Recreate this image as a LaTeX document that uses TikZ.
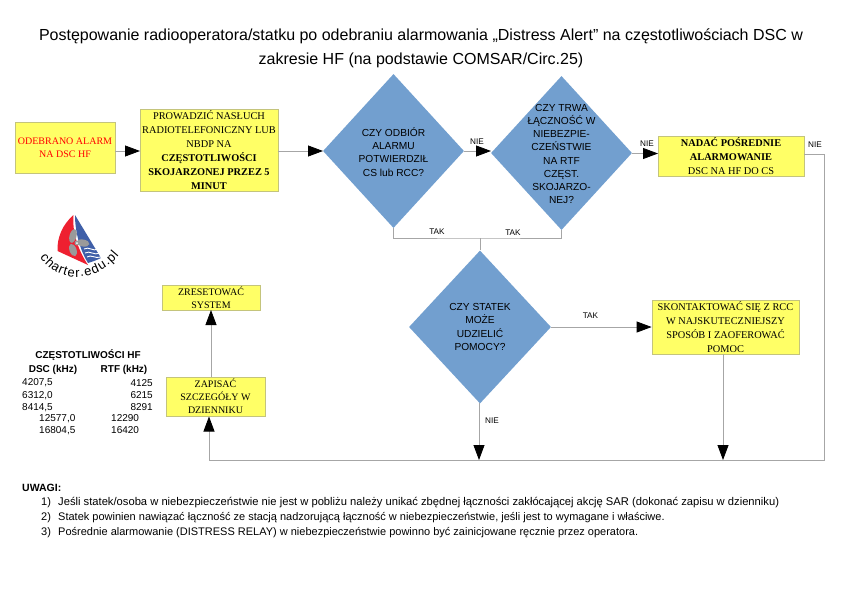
\documentclass[tikz,border=0pt]{standalone}
\usepackage{fontspec}
\setmainfont{Liberation Serif}
\setsansfont{Liberation Sans}
\usetikzlibrary{arrows.meta,shapes.geometric,decorations.text}
\definecolor{linegray}{HTML}{A6A6A6}
\definecolor{boxedge}{HTML}{C4C47C}
\definecolor{boxfill}{HTML}{FFFF66}
\definecolor{diamondfill}{HTML}{729FCF}
\definecolor{logored}{HTML}{EE2030}
\definecolor{logoblue}{HTML}{3F5FA8}
\definecolor{logogray}{HTML}{9A9A9A}
\tikzset{
  yellowbox/.style={draw=boxedge,fill=boxfill,line width=0.8pt,inner sep=0pt,align=center,
    font=\rmfamily\fontsize{10.35}{13.9}\selectfont},
  smallbox/.style={yellowbox,font=\rmfamily\fontsize{10}{13}\selectfont},
  decision/.style={shape=diamond,fill=diamondfill,draw=none,inner sep=0pt},
  dtext/.style={align=center,inner sep=0pt,font=\sffamily\fontsize{10.2}{13.2}\selectfont},
  conn/.style={draw=linegray,line width=0.8pt},
  arrowconn/.style={conn,-{Triangle[length=15pt,width=11pt,black]}},
  edgelabel/.style={inner sep=0pt,font=\sffamily\fontsize{8.2}{9}\selectfont},
  tabletext/.style={inner sep=0pt,font=\sffamily\fontsize{10}{11}\selectfont},
  tablehead/.style={inner sep=0pt,font=\sffamily\bfseries\fontsize{10}{11}\selectfont},
  notetext/.style={inner sep=0pt,anchor=west,font=\sffamily\fontsize{11}{12}\selectfont},
}
\begin{document}
\begin{tikzpicture}[x=1pt,y=-1pt]
\useasboundingbox (0,0) rectangle (842,595);
\node[align=center,inner sep=0pt,font=\sffamily\fontsize{16}{24}\selectfont] (title) at (421,48)
 {Postępowanie radiooperatora/statku po odebraniu alarmowania „Distress Alert” na częstotliwościach DSC w\\
  zakresie HF (na podstawie COMSAR/Circ.25)};

% boxes
\node[smallbox,minimum width=100pt,minimum height=51pt,text=red] (alarm) at (65,147.5) {ODEBRANO ALARM\\NA DSC HF};
\node[yellowbox,minimum width=138pt,minimum height=82pt] (listen) at (209,150)
 {PROWADZIĆ NASŁUCH\\RADIOTELEFONICZNY LUB\\NBDP NA\\\textbf{CZĘSTOTLIWOŚCI}\\\textbf{SKOJARZONEJ PRZEZ 5}\\\textbf{MINUT}};
\node[yellowbox,minimum width=146pt,minimum height=40pt] (relay) at (731,156)
 {\textbf{NADAĆ POŚREDNIE}\\\textbf{ALARMOWANIE}\\DSC NA HF DO CS};
\node[yellowbox,minimum width=147pt,minimum height=54pt] (contact) at (725.5,327)
 {SKONTAKTOWAĆ SIĘ Z RCC\\W NAJSKUTECZNIEJSZY\\SPOSÓB I ZAOFEROWAĆ\\POMOC};
\node[smallbox,minimum width=99pt,minimum height=39pt] (log) at (215.5,396.5)
 {ZAPISAĆ\\SZCZEGÓŁY W\\DZIENNIKU};
\node[smallbox,minimum width=98pt,minimum height=25pt,font=\rmfamily\fontsize{10}{12.5}\selectfont] (reset) at (211,297.5)
 {ZRESETOWAĆ\\SYSTEM};

% decisions
\node[decision,minimum width=141pt,minimum height=154pt] (d1) at (393.5,151) {};
\node[dtext] (d1t) at (393.5,152) {CZY ODBIÓR\\ALARMU\\POTWIERDZIŁ\\CS lub RCC?};
\node[decision,minimum width=141pt,minimum height=154pt] (d2) at (561.5,153) {};
\node[dtext] (d2t) at (561.5,154) {CZY TRWA\\ŁĄCZNOŚĆ W\\NIEBEZPIE-\\CZEŃSTWIE\\NA RTF\\CZĘST.\\SKOJARZO-\\NEJ?};
\node[decision,minimum width=142pt,minimum height=153pt] (d3) at (480,327) {};
\node[dtext] (d3t) at (480,327) {CZY STATEK\\MOŻE\\UDZIELIĆ\\POMOCY?};

% junctions
\coordinate (tj) at (480,238);
\coordinate (relaycorner) at (824,154);
\coordinate (bottomright) at (824,460);
\coordinate (bottomleft) at (209,460);
\coordinate (j3) at (479,460);
\coordinate (j4) at (723,460);
\coordinate (logofoot) at (209,416.5);
\coordinate (logotop) at (211,377);
\coordinate (resetfoot) at (211,310);
\coordinate (contactfoot) at (723,354);
\coordinate (d3foot) at (479,403);
\coordinate (listenout) at (278,151);
\coordinate (alarmout) at (115,151);
\coordinate (listenin) at (140,151);
\coordinate (d1in) at (323,151);
\coordinate (d1out) at (464,151);
\coordinate (d2in) at (491,151);
\coordinate (d2out) at (632,153.5);
\coordinate (relayin) at (658,153.5);
\coordinate (relayout) at (804,154);

% connectors
\draw[arrowconn] (alarmout) -- (listenin);
\draw[arrowconn] (listenout) -- (d1in);
\draw[arrowconn] (d1out) -- (d2in);
\draw[arrowconn] (d2out) -- (relayin);
\draw[conn] (d1.south) |- (tj) -| (d2.south);
\draw[conn] (tj) -- (d3.north);
\draw[arrowconn] (d3.east) -- (contact.west);
\draw[arrowconn] (d3foot) -- (j3);
\draw[arrowconn] (contactfoot) -- (j4);
\draw[conn] (relayout) -- (relaycorner) -- (bottomright) -- (bottomleft);
\draw[arrowconn] (bottomleft) -- (logofoot);
\draw[arrowconn] (logotop) -- (resetfoot);

% connector labels
\node[edgelabel] (n1) at (477,142) {NIE};
\node[edgelabel] (n2) at (647,143.5) {NIE};
\node[edgelabel] (n3) at (815,144.5) {NIE};
\node[edgelabel] (t1) at (437,232) {TAK};
\node[edgelabel] (t2) at (513,233) {TAK};
\node[edgelabel] (t3) at (590.5,316) {TAK};
\node[edgelabel] (n4) at (492,421) {NIE};

% logo
\fill[logored] (73.5,215) .. controls (62,225) and (57,238) .. (57.5,251) -- (88,265) .. controls (78,250) and (72,232) .. (73.5,215) -- cycle;
\fill[logoblue] (75,215) -- (101,258) .. controls (95,261) and (91,262) .. (88,263) .. controls (80,250) and (75,232) .. (75,215) -- cycle;
\draw[white,line width=0.9pt] (84,249) .. controls (89,246) and (93,252) .. (98,249);
\draw[white,line width=0.9pt] (85,253) .. controls (90,250) and (94,256) .. (100,253);
\draw[white,line width=0.9pt] (87,257) .. controls (91,254) and (95,259) .. (101,257);
\fill[logogray,rotate around={-15:(73,236)}] (73,236) ellipse (3.5 and 7);
\fill[logogray,rotate around={80:(83,243)}] (83,243) ellipse (3.5 and 6.5);
\fill[logogray,rotate around={20:(73,250)}] (73,250) ellipse (3.5 and 6.5);
\fill[logogray] (77,243) circle (2.5);
\fill[white] (77,243) circle (1);
\path[postaction={decorate,decoration={text along path,text align={fit to path},
   text={|\sffamily\fontsize{13}{14}\selectfont|charter.edu.pl}}}]
   (40,257) .. controls (58,284) and (95,284) .. (119,255);

% frequency table
\node[tablehead] (fh) at (88,355) {CZĘSTOTLIWOŚCI HF};
\node[tablehead] (fd) at (53,370) {DSC (kHz)};
\node[tablehead] (fr) at (124,370) {RTF (kHz)};
\node[tabletext,anchor=west] (a1) at (22,383) {4207,5};
\node[tabletext,anchor=east] (b1) at (153,383) {4125};
\node[tabletext,anchor=west] (a2) at (22,395.5) {6312,0};
\node[tabletext,anchor=east] (b2) at (153,395.5) {6215};
\node[tabletext,anchor=west] (a3) at (22,407.5) {8414,5};
\node[tabletext,anchor=east] (b3) at (153,407.5) {8291};
\node[tabletext,anchor=west] (a4) at (39,418.5) {12577,0};
\node[tabletext,anchor=west] (b4) at (111,418.5) {12290};
\node[tabletext,anchor=west] (a5) at (39,430.5) {16804,5};
\node[tabletext,anchor=west] (b5) at (111,430.5) {16420};

% notes
\node[notetext,font=\sffamily\bfseries\fontsize{10.5}{12}\selectfont] (uw) at (22,488) {UWAGI:};
\node[notetext] (m1) at (41,503) {1)};
\node[notetext,font=\sffamily\fontsize{11.2}{12}\selectfont] (l1) at (58,503) {Jeśli statek/osoba w niebezpieczeństwie nie jest w pobliżu należy unikać zbędnej łączności zakłócającej akcję SAR (dokonać zapisu w dzienniku)};
\node[notetext] (m2) at (41,518) {2)};
\node[notetext] (l2) at (58,518) {Statek powinien nawiązać łączność ze stacją nadzorującą łączność w niebezpieczeństwie, jeśli jest to wymagane i właściwe.};
\node[notetext] (m3) at (41,533) {3)};
\node[notetext] (l3) at (58,533) {Pośrednie alarmowanie (DISTRESS RELAY) w niebezpieczeństwie powinno być zainicjowane ręcznie przez operatora.};
\end{tikzpicture}
\end{document}
